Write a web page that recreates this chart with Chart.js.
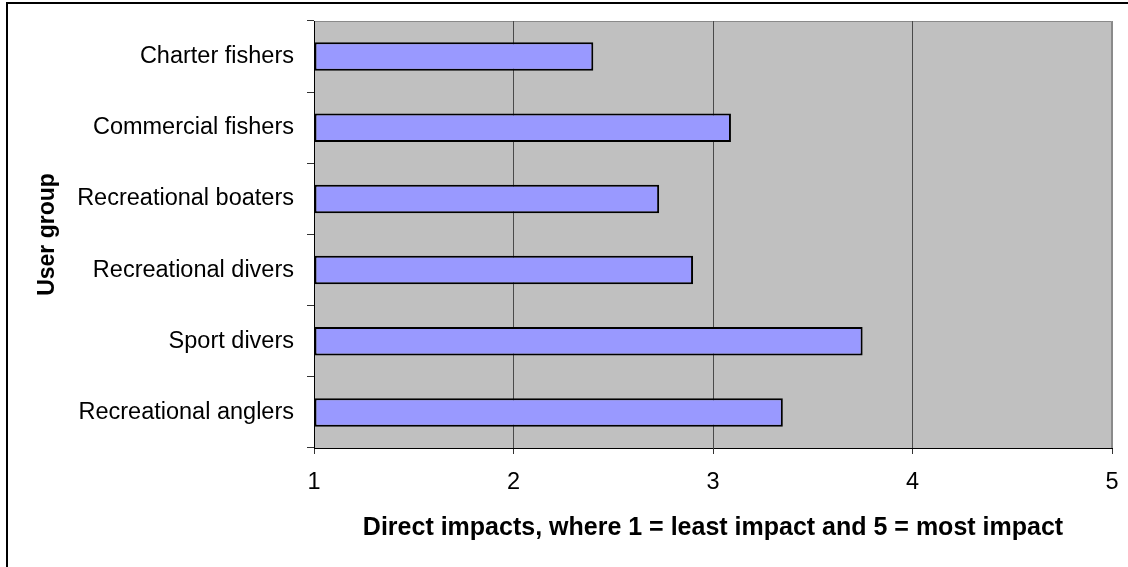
<!DOCTYPE html>
<html>
<head>
<meta charset="utf-8">
<title>Direct impacts by user group</title>
<script src="https://cdn.jsdelivr.net/npm/chart.js@4/dist/chart.umd.min.js"></script>
<style>
  html, body { margin: 0; padding: 0; background: #ffffff; }
  #wrap { width: 1128px; height: 567px; }
</style>
</head>
<body>
<div id="wrap"><canvas id="chart" width="1128" height="567"></canvas></div>
<script>
// User groups, top to bottom
const userGroups = [
  'Charter fishers',
  'Commercial fishers',
  'Recreational boaters',
  'Recreational divers',
  'Sport divers',
  'Recreational anglers'
];

// Mean rating of direct impacts (1 = least, 5 = most)
const directImpact = [2.40, 3.09, 2.73, 2.90, 3.75, 3.35];

// Value axis range and tick labels
const impactMin = 1;
const impactMax = 5;
const impactTicks = [1, 2, 3, 4, 5];

const axisTitleX = 'Direct impacts, where 1 = least impact and 5 = most impact';
const axisTitleY = 'User group';

const FONT = '"Liberation Sans", Arial, Helvetica, sans-serif';

const PAD = { left: 34, right: 16, top: 21, bottom: 24 };
const PLOT_LEFT = 314;
const PLOT_BOTTOM = 448;

// Grey plot background, thin frame, and the outer chart border
const framePlugin = {
  id: 'frame',
  beforeDraw(chart) {
    const { ctx, chartArea: a } = chart;
    ctx.save();
    ctx.fillStyle = '#ffffff';
    ctx.fillRect(0, 0, chart.width, chart.height);
    ctx.fillStyle = '#c0c0c0';
    ctx.fillRect(a.left, a.top, a.right - a.left, a.bottom - a.top);
    ctx.strokeStyle = '#8a8a8a';
    ctx.lineWidth = 1;
    ctx.beginPath();
    ctx.moveTo(a.left, a.top + 0.5);
    ctx.lineTo(a.right - 0.5, a.top + 0.5);
    ctx.lineTo(a.right - 0.5, a.bottom);
    ctx.stroke();
    ctx.restore();
  },
  afterDraw(chart) {
    const { ctx } = chart;
    ctx.save();
    ctx.strokeStyle = '#000000';
    ctx.lineWidth = 2;
    ctx.beginPath();
    ctx.moveTo(7, chart.height + 2);
    ctx.lineTo(7, 3);
    ctx.lineTo(chart.width + 2, 3);
    ctx.stroke();
    ctx.restore();
  }
};

new Chart(document.getElementById('chart'), {
  type: 'bar',
  data: {
    labels: userGroups,
    datasets: [{
      data: directImpact,
      base: impactMin,
      backgroundColor: '#9999ff',
      borderColor: '#000000',
      borderWidth: 2,
      borderSkipped: false,
      barPercentage: 0.4,
      categoryPercentage: 1.0
    }]
  },
  options: {
    indexAxis: 'y',
    responsive: false,
    devicePixelRatio: 1,
    animation: false,
    layout: { padding: PAD },
    plugins: {
      legend: { display: false },
      tooltip: { enabled: false }
    },
    scales: {
      x: {
        type: 'linear',
        min: impactMin,
        max: impactMax,
        afterBuildTicks(scale) {
          scale.ticks = impactTicks.map(v => ({ value: v }));
        },
        afterFit(scale) {
          scale.height = 567 - PAD.bottom - PLOT_BOTTOM;
          scale.paddingLeft = 0;
          scale.paddingRight = 0;
        },
        border: { display: true, color: '#000000', width: 1 },
        grid: {
          display: true,
          drawOnChartArea: true,
          drawTicks: true,
          tickLength: 6,
          color: (c) => (c.index === impactTicks.length - 1 ? '#8a8a8a' : '#4a4a4a'),
          tickColor: '#333333',
          lineWidth: 1
        },
        ticks: {
          color: '#000000',
          padding: 14,
          font: { family: FONT, size: 23.5 },
          callback: (v) => String(v)
        },
        title: {
          display: true,
          text: axisTitleX,
          color: '#000000',
          padding: 0,
          font: { family: FONT, size: 25, weight: 'bold' }
        }
      },
      y: {
        type: 'category',
        afterFit(scale) {
          scale.width = PLOT_LEFT - PAD.left;
          scale.paddingTop = 0;
          scale.paddingBottom = 0;
        },
        border: { display: true, color: '#000000', width: 1 },
        grid: {
          display: true,
          offset: true,
          drawOnChartArea: false,
          drawTicks: true,
          tickLength: 7,
          color: '#333333',
          tickColor: '#333333'
        },
        ticks: {
          color: '#000000',
          padding: 13,
          font: { family: FONT, size: 23.5 }
        },
        title: {
          display: true,
          text: axisTitleY,
          color: '#000000',
          padding: 0,
          font: { family: FONT, size: 23, weight: 'bold' }
        }
      }
    }
  },
  plugins: [framePlugin]
});
</script>
</body>
</html>
